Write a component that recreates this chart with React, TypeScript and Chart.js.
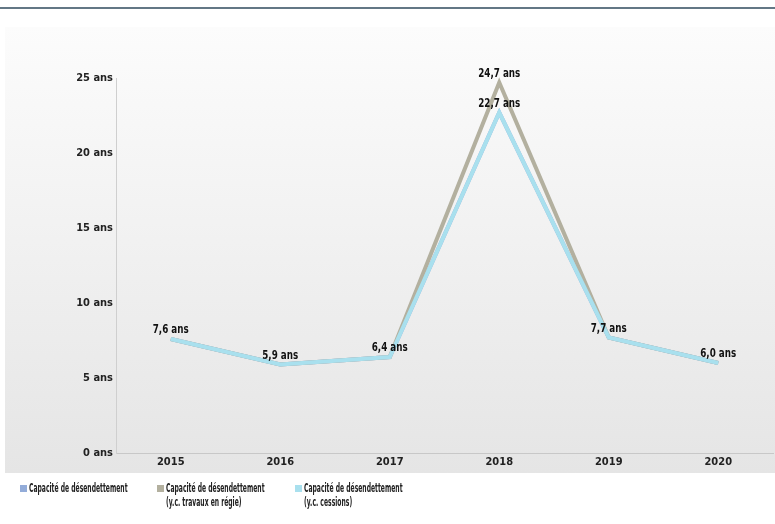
import React, { useEffect, useRef } from "react";
import { Chart, registerables } from "chart.js";

Chart.register(...registerables);

const categories = ["2015", "2016", "2017", "2018", "2019", "2020"];
const capacite = [7.6, 5.9, 6.4, 22.7, 7.7, 6.0];
const capaciteTravaux = [7.6, 5.9, 6.4, 24.7, 7.7, 6.0];
const capaciteCessions = [7.6, 5.9, 6.4, 22.7, 7.7, 6.0];
const yTicks = [0, 5, 10, 15, 20, 25];
const seriesNames = [
  ["Capacité de désendettement"],
  ["Capacité de désendettement", "(y.c. travaux en régie)"],
  ["Capacité de désendettement", "(y.c. cessions)"],
];
const seriesColors = ["#93acd9", "#b3b09f", "#a9e0ee"];

const FONT = "'Liberation Sans Narrow', 'DejaVu Sans Condensed', 'Arial Narrow', sans-serif";

const fmt = (v: number) => v.toFixed(1).replace(".", ",") + " ans";

const backgroundPlugin = {
  id: "bgPanel",
  beforeDraw(chart: any) {
    const ctx = chart.ctx;
    ctx.save();
    ctx.fillStyle = "#ffffff";
    ctx.fillRect(0, 0, chart.width, chart.height);
    ctx.strokeStyle = "#2f4a5c";
    ctx.lineWidth = 1.5;
    ctx.beginPath();
    ctx.moveTo(0, 8);
    ctx.lineTo(chart.width, 8);
    ctx.stroke();
    const g = ctx.createLinearGradient(0, 27, 0, 473);
    g.addColorStop(0, "#fcfcfc");
    g.addColorStop(1, "#e5e5e5");
    ctx.fillStyle = g;
    ctx.fillRect(5, 27, chart.width - 5, 446);
    ctx.restore();
  },
};

const labelPlugin = {
  id: "valueLabels",
  afterDatasetsDraw(chart: any) {
    const ctx = chart.ctx;
    const ref = chart.data.datasets[1].data as number[];
    [1, 2].forEach((di) => {
      const meta = chart.getDatasetMeta(di);
      const data = chart.data.datasets[di].data as number[];
      meta.data.forEach((pt: any, i: number) => {
        if (di === 2 && data[i] === ref[i]) return;
        ctx.save();
        ctx.translate(pt.x, pt.y - 9);
        ctx.scale(0.78, 1);
        ctx.font = "bold 12.5px " + FONT;
        ctx.fillStyle = "#111111";
        ctx.textAlign = "center";
        ctx.textBaseline = "middle";
        ctx.fillText(fmt(data[i]), 0, 0);
        ctx.restore();
      });
    });
  },
};

export default function App() {
  const canvasRef = useRef<HTMLCanvasElement | null>(null);

  useEffect(() => {
    if (!canvasRef.current) return;
    const ds = (data: number[], color: string, order: number) => ({
      data,
      order,
      borderColor: color,
      backgroundColor: color,
      borderWidth: 4,
      pointRadius: 0,
      tension: 0,
      clip: false as any,
    });
    const chart = new Chart(canvasRef.current, {
      type: "line",
      data: {
        labels: categories,
        datasets: [
          ds(capacite, seriesColors[0], 2),
          ds(capaciteTravaux, seriesColors[1], 1),
          ds(capaciteCessions, seriesColors[2], 0),
        ],
      },
      options: {
        animation: false,
        responsive: false,
        maintainAspectRatio: false,
        layout: { padding: { left: 0, top: 78, right: 2, bottom: 51 } },
        plugins: { legend: { display: false }, tooltip: { enabled: false } },
        scales: {
          x: {
            offset: true,
            grid: { display: false, drawTicks: false },
            border: { display: true, color: "#c8c8c8", width: 1 },
            ticks: {
              color: "#222222",
              font: { family: FONT, size: 11, weight: "bold" },
              padding: 3,
              maxRotation: 0,
            },
            afterFit(scale: any) {
              scale.height = 20;
            },
          },
          y: {
            min: 0,
            max: 25,
            afterBuildTicks(scale: any) {
              scale.ticks = yTicks.map((v) => ({ value: v }));
            },
            grid: { display: false, drawTicks: false },
            border: { display: true, color: "#cfcfcf", width: 1 },
            ticks: {
              color: "#222222",
              font: { family: FONT, size: 11, weight: "bold" },
              padding: 3,
              callback: (v: any) => v + " ans",
            },
            afterFit(scale: any) {
              scale.width = 116;
            },
          },
        },
      },
      plugins: [backgroundPlugin, labelPlugin],
    });
    return () => chart.destroy();
  }, []);

  return (
    <div style={{ position: "fixed", left: 0, top: 0, width: 775, height: 524, background: "#fff" }}>
      <canvas ref={canvasRef} width={775} height={524} style={{ display: "block" }} />
      {seriesNames.map((lines, i) => (
        <div
          key={i}
          style={{
            position: "absolute",
            left: [20, 157, 295][i],
            top: 481,
            display: "flex",
            alignItems: "flex-start",
            fontFamily: FONT,
            fontWeight: "bold",
            fontSize: 12,
            lineHeight: "14px",
            color: "#222",
          }}
        >
          <span
            style={{
              display: "inline-block",
              flex: "none",
              width: 7,
              height: 7,
              background: seriesColors[i],
              marginTop: 4,
              marginRight: 2,
            }}
          />
          <div style={{ transform: "scaleX(0.56)", transformOrigin: "left top", whiteSpace: "nowrap" }}>
            {lines.map((l, j) => (
              <div key={j}>{l}</div>
            ))}
          </div>
        </div>
      ))}
    </div>
  );
}
